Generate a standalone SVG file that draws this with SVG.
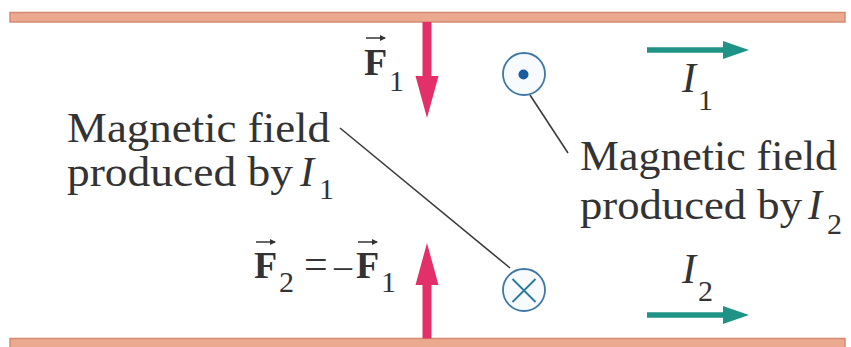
<svg xmlns="http://www.w3.org/2000/svg" width="851" height="347" viewBox="0 0 851 347">
<defs>
<style>
.wire{fill:#eba98f;stroke:#d58b72;stroke-width:1.5}
.force{fill:#e3306a}
.cur{fill:#1f9486}
.lead{stroke:#3c3c3c;stroke-width:1.6;fill:none}
.ring{fill:#f7fbfe;stroke:#3f78a6;stroke-width:1.8}
.t{font-family:"Liberation Serif","Times New Roman",serif;fill:#333;font-size:42px}
.it{font-style:italic}
.sub{font-size:30px}
.bf{font-weight:bold;font-size:38px}
.vec{stroke:#333;stroke-width:1.5;fill:none}
</style>
<marker id="vh" markerWidth="6" markerHeight="6" refX="5" refY="3" orient="auto" markerUnits="userSpaceOnUse"><path d="M0,0 L6,3 L0,6 Z" fill="#333"/></marker>
</defs>

<g id="wire1"><rect class="wire" x="10" y="12.5" width="835" height="9.5"/></g>
<g id="wire2"><rect class="wire" x="10" y="338.5" width="835" height="9.5"/></g>

<g id="connectors">
<line class="lead" x1="340" y1="128" x2="510" y2="268"/>
<line class="lead" x1="530" y1="95" x2="568" y2="153"/>
</g>

<g id="forceF1">
<path class="force" d="M422.5,22 H431.5 V76 H438.5 L427,118 L415.5,76 H422.5 Z"/>
</g>
<g id="forceF2">
<path class="force" d="M422.5,338.5 H431.5 V285 H438.5 L427,243 L415.5,285 H422.5 Z"/>
</g>

<g id="fieldOut">
<circle class="ring" cx="524" cy="74" r="21"/>
<circle cx="523.5" cy="74.5" r="5" fill="#1a5c9c"/>
</g>
<g id="fieldIn">
<circle class="ring" cx="524" cy="290" r="21"/>
<path d="M512.5,279 L535.5,302 M535.5,279 L512.5,302" stroke="#2a7a9c" stroke-width="1.8"/>
</g>

<g id="currentI1">
<path class="cur" d="M647,47.3 H723 V41 L749,50 L723,59 V52.7 H647 Z"/>
<text class="t"><tspan class="it" x="682" y="92">I</tspan><tspan class="sub" x="698" y="110">1</tspan></text>
</g>
<g id="currentI2">
<path class="cur" d="M647,312.3 H723 V306 L749,315 L723,324 V317.7 H647 Z"/>
<text class="t"><tspan class="it" x="682" y="283">I</tspan><tspan class="sub" x="698" y="301">2</tspan></text>
</g>

<g id="labelF1">
<text class="t"><tspan class="bf" x="364" y="75">F</tspan><tspan class="sub" x="389" y="91">1</tspan></text>
<line class="vec" x1="366" y1="38" x2="385" y2="38" marker-end="url(#vh)"/>
</g>

<g id="labelF2">
<text class="t"><tspan class="bf" x="254" y="278">F</tspan><tspan class="sub" x="279" y="292">2</tspan><tspan x="304" y="278">=</tspan><tspan x="334" y="278" font-size="36">–</tspan><tspan class="bf" x="356" y="278">F</tspan><tspan class="sub" x="381" y="292">1</tspan></text>
<line class="vec" x1="256" y1="242" x2="275" y2="242" marker-end="url(#vh)"/>
<line class="vec" x1="358" y1="242" x2="377" y2="242" marker-end="url(#vh)"/>
</g>

<g id="labelB1">
<text class="t" x="67" y="142" textLength="263" lengthAdjust="spacingAndGlyphs">Magnetic field</text>
<text class="t"><tspan x="67" y="186" textLength="226" lengthAdjust="spacingAndGlyphs">produced by</tspan><tspan class="it" x="300" y="186">I</tspan><tspan class="sub" x="319" y="199">1</tspan></text>
</g>

<g id="labelB2">
<text class="t" x="580" y="170" textLength="257" lengthAdjust="spacingAndGlyphs">Magnetic field</text>
<text class="t"><tspan x="580" y="219" textLength="222" lengthAdjust="spacingAndGlyphs">produced by</tspan><tspan class="it" x="808" y="219">I</tspan><tspan class="sub" x="827" y="234">2</tspan></text>
</g>
</svg>
